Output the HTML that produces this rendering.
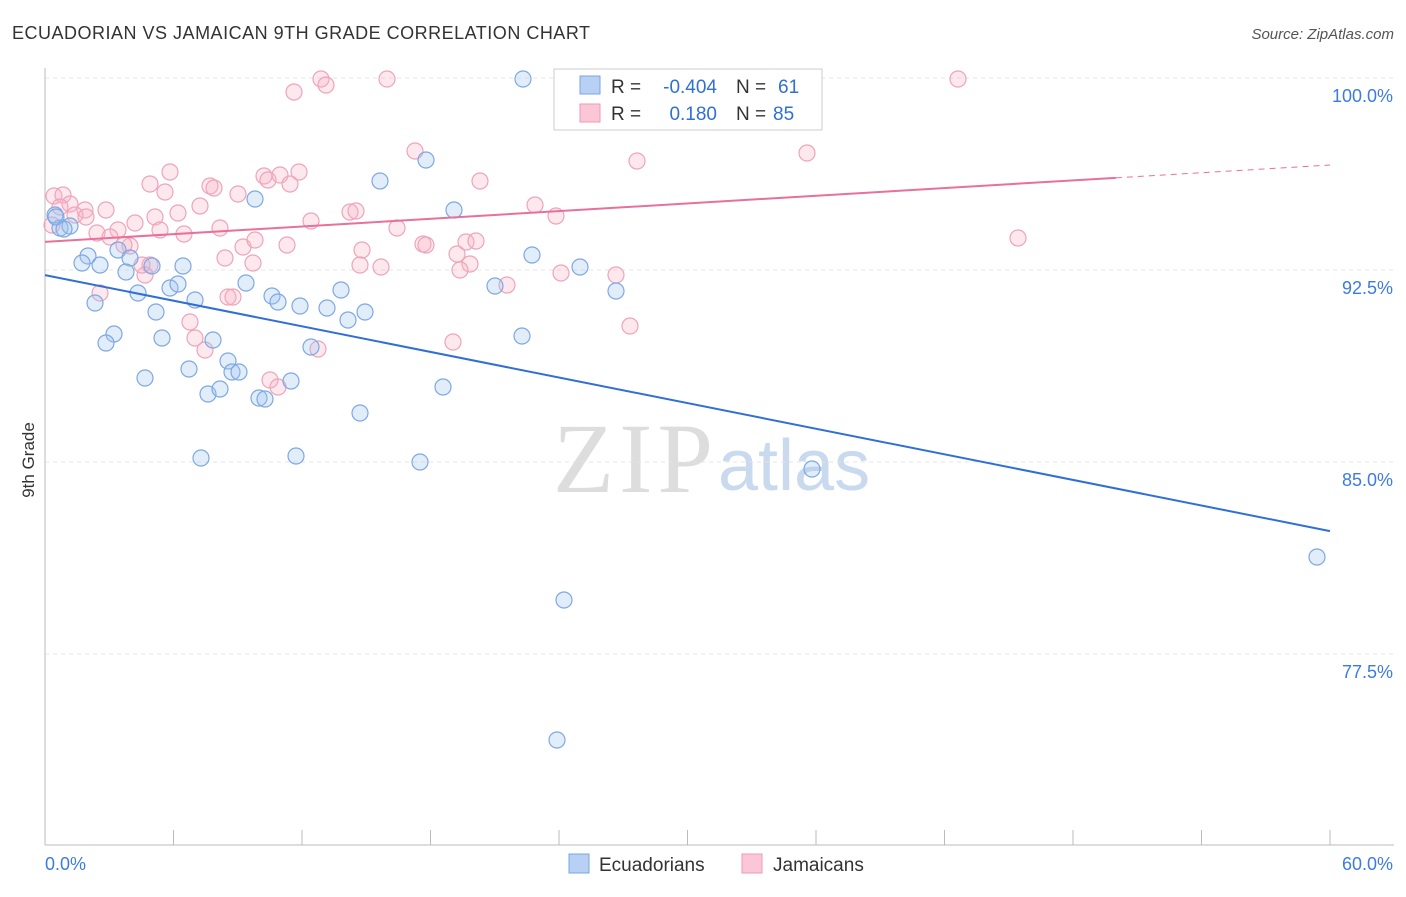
<!DOCTYPE html>
<html><head><meta charset="utf-8"><style>
body{margin:0;background:#fff;font-family:"Liberation Sans",sans-serif}
</style></head><body>
<svg id="chart" width="1406" height="892" xmlns="http://www.w3.org/2000/svg">
<text x="12" y="39" font-size="18" fill="#333" textLength="578">ECUADORIAN VS JAMAICAN 9TH GRADE CORRELATION CHART</text>
<text x="1394" y="39" font-size="15" fill="#555" text-anchor="end" font-style="italic">Source: ZipAtlas.com</text>
<text x="34" y="460" font-size="17" fill="#333" transform="rotate(-90 34 460)" text-anchor="middle">9th Grade</text>
<text x="553" y="492" font-size="100" fill="#ddd" font-family="Liberation Serif" textLength="160">ZIP</text>
<text x="718" y="490" font-size="72" fill="#c9d9ee">atlas</text>
<g id="grid"></g><g id="axes"></g><g id="pts"></g><g id="lines"></g>
<g font-size="19">
<rect x="554" y="69" width="268" height="61" fill="#fff" stroke="#ccc"/>
<rect x="580" y="76" width="20" height="18" fill="#b8d0f3" stroke="#7aa6e6"/>
<rect x="580" y="104" width="20" height="18" fill="#fbc7d7" stroke="#ee98b3"/>
<text x="611" y="93" fill="#333">R =</text>
<text x="717" y="93" fill="#2f6fd6" text-anchor="end">-0.404</text>
<text x="736" y="93" fill="#333">N =</text>
<text x="778" y="93" fill="#2f6fd6">61</text>
<text x="611" y="120" fill="#333">R =</text>
<text x="717" y="120" fill="#2f6fd6" text-anchor="end">0.180</text>
<text x="736" y="120" fill="#333">N =</text>
<text x="773" y="120" fill="#2f6fd6">85</text>
</g>
<g>
<rect x="569" y="854" width="20" height="19" fill="#b8d0f3" stroke="#7aa6e6"/>
<text x="599" y="871" font-size="19" fill="#333">Ecuadorians</text>
<rect x="742" y="854" width="20" height="19" fill="#fbc7d7" stroke="#ee98b3"/>
<text x="773" y="871" font-size="19" fill="#333">Jamaicans</text>
</g>
</svg>
<script>
const yTicks=[100,92.5,85,77.5];
const yTickLabels=["100.0%","92.5%","85.0%","77.5%"];
const blueX=[523,426,380,255,454,55,60,70,88,82,100,118,130,126,152,183,532,580,138,170,178,195,246,272,278,300,327,341,348,365,495,616,95,114,106,156,162,213,311,522,145,189,228,232,239,291,208,220,259,265,443,360,201,296,420,812,1317,564,557,56,64].map(p=>(p-45)/1285*60);
const blueY=[79,160,181,199,210,215,228,226,256,263,265,250,258,272,266,266,255,267,293,288,284,300,283,296,302,306,308,290,320,312,286,291,303,334,343,312,338,340,347,336,378,369,361,372,372,381,394,389,398,399,387,413,458,456,462,469,557,600,740,217,229].map(p=>100-(p-78)/25.6);
const pinkX=[321,387,326,294,657,958,415,637,807,170,299,480,150,165,210,214,238,264,268,280,290,54,63,70,85,106,200,178,155,135,118,97,75,86,110,130,150,145,160,184,220,243,255,287,311,350,356,397,362,360,381,423,426,466,476,457,470,460,507,535,556,561,616,630,1018,100,228,233,190,195,205,318,270,278,453,253,225,124,142,60,52].map(p=>(p-45)/1285*60);
const pinkY=[79,79,85,92,79,79,151,161,153,172,172,181,184,192,186,188,194,176,180,175,184,196,195,204,210,210,206,213,217,223,230,233,215,217,237,246,265,275,230,234,228,247,240,245,221,212,211,228,250,265,267,244,245,242,241,254,264,270,285,205,216,273,275,326,238,293,297,297,322,338,350,349,380,387,342,263,258,245,265,207,225].map(p=>100-(p-78)/25.6);
const blueFit=[92.3,82.3];
const pinkFit=[93.6,96.1,96.6];
const X=v=>45+v/60*1285, Y=v=>78+(100-v)*25.6;
const NS='http://www.w3.org/2000/svg';
function mk(t,a,parent){const e=document.createElementNS(NS,t);for(const k in a)e.setAttribute(k,a[k]);document.getElementById(parent).appendChild(e);return e;}
yTicks.forEach((t,i)=>{
 const g=mk('line',{x1:45,x2:1394,y1:Y(t),y2:Y(t),stroke:'#e4e4e4','stroke-dasharray':'4 4'},'grid');
 
 
 const l=mk('text',{x:1393,y:Y(t)+24,'font-size':18,fill:'#3d7be0','text-anchor':'end'},'grid');
 l.textContent=yTickLabels[i];
 
 
});
let a=mk('line',{x1:45,x2:45,y1:68,y2:845,stroke:'#bbb'},'axes');

a=mk('line',{x1:45,x2:1394,y1:845,y2:845,stroke:'#bbb'},'axes');

for(let i=0;i<=10;i++){const t=mk('line',{x1:45+i*128.5,x2:45+i*128.5,y1:830,y2:845,stroke:'#bbb'},'axes');
}
a=mk('text',{x:45,y:870,'font-size':18,fill:'#3d7be0'},'axes');a.textContent='0.0%';

a=mk('text',{x:1393,y:870,'font-size':18,fill:'#3d7be0','text-anchor':'end'},'axes');a.textContent='60.0%';

pinkX.forEach((x,i)=>{const c=mk('circle',{cx:X(x),cy:Y(pinkY[i]),r:8,fill:'rgba(248,180,200,0.3)',stroke:'#eea4bb','stroke-width':1.2},'pts');
});
blueX.forEach((x,i)=>{const c=mk('circle',{cx:X(x),cy:Y(blueY[i]),r:8,fill:'rgba(160,195,240,0.3)',stroke:'#7ea8e2','stroke-width':1.2},'pts');
});
let L=mk('line',{x1:X(0),y1:Y(blueFit[0]),x2:X(60),y2:Y(blueFit[1]),stroke:'#2f6fd6','stroke-width':2},'lines');

L=mk('line',{x1:X(0),y1:Y(pinkFit[0]),x2:X(50),y2:Y(pinkFit[1]),stroke:'#e8709a','stroke-width':2},'lines');

L=mk('line',{x1:X(50),y1:Y(pinkFit[1]),x2:X(60),y2:Y(pinkFit[2]),stroke:'#e8709a','stroke-width':1,'stroke-dasharray':'6 5'},'lines');

</script>
</body></html>
